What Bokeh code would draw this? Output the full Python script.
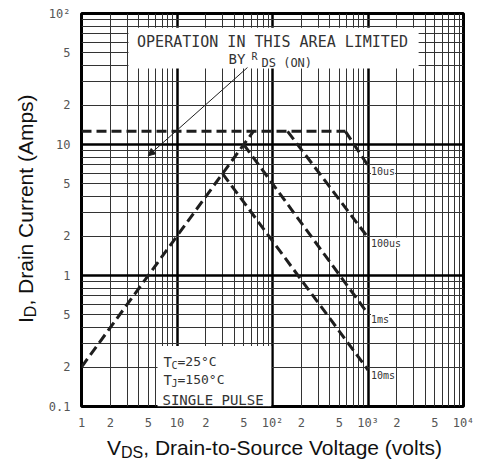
import math
from bokeh.plotting import figure
from bokeh.layouts import row, column
from bokeh.models import (Range1d, FixedTicker, Label, LabelSet, BoxAnnotation, Arrow,
                          NormalHead, ColumnDataSource, CustomJSTickFormatter, Div)
from bokeh.core.properties import value
from bokeh.embed import file_html
from bokeh.resources import INLINE

# ---------------- data ----------------
rds_v = [1, 63]          # RDS(on) limit line
rds_i = [0.2, 12.6]
lim_v = [1, 580]         # current limit
lim_i = [12.6, 12.6]
t10us_v = [580, 1000]
t10us_i = [12.6, 6.9]
t100us_v = [144, 1000]
t100us_i = [12.6, 1.95]
t1ms_v = [50, 1000]
t1ms_i = [10.0, 0.51]
t10ms_v = [30, 1000]
t10ms_i = [6.0, 0.19]
curve_labels = ["10us", "100us", "1ms", "10ms"]

x_ticks = [1, 2, 5, 10, 20, 50, 100, 200, 500, 1000, 2000, 5000, 10000]
x_tick_labels = ["1", "2", "5", "10", "2", "5", "10²", "2", "5", "10³", "2", "5", "10⁴"]
y_ticks = [0.1, 0.2, 0.5, 1, 2, 5, 10, 20, 50, 100]
y_tick_labels = ["0.1", "2", "5", "1", "2", "5", "10", "2", "5", "10²"]

MONO = "DejaVu Sans Mono"
SANS = "Liberation Sans"
INK = "#1e1e1e"

p = figure(width=442, height=432, x_axis_type="log", y_axis_type="log",
           x_range=Range1d(1, 10000), y_range=Range1d(0.1, 100),
           output_backend="svg", toolbar_location=None, margin=0,
           min_border_left=41, min_border_right=19, min_border_top=13, min_border_bottom=25)
p.background_fill_color = "white"
p.border_fill_color = "white"
p.outline_line_color = "black"
p.outline_line_width = 3

# grid
x_dec = [10 ** k for k in range(0, 5)]
x_min = [m * 10 ** k for k in range(0, 4) for m in range(2, 10)]
y_dec = [10.0 ** k for k in range(-1, 3)]
y_min = [m * 10.0 ** k for k in range(-1, 2) for m in range(2, 10)]
p.xgrid.ticker = FixedTicker(ticks=x_dec, minor_ticks=x_min)
p.ygrid.ticker = FixedTicker(ticks=y_dec, minor_ticks=y_min)
for g in (p.xgrid, p.ygrid):
    g.grid_line_color = "black"
    g.grid_line_width = 2.5
    g.grid_line_alpha = 1
    g.minor_grid_line_color = "#333333"
    g.minor_grid_line_width = 1

fmt_code = """
const i = tks.findIndex(t => Math.abs(Math.log10(t) - Math.log10(tick)) < 1e-6);
return i >= 0 ? labs[i] : "";
"""
p.xaxis.ticker = FixedTicker(ticks=x_ticks)
p.yaxis.ticker = FixedTicker(ticks=y_ticks)
p.xaxis.formatter = CustomJSTickFormatter(args=dict(tks=x_ticks, labs=x_tick_labels), code=fmt_code)
p.yaxis.formatter = CustomJSTickFormatter(args=dict(tks=y_ticks, labs=y_tick_labels), code=fmt_code)
for ax in (p.xaxis, p.yaxis):
    ax.axis_line_color = None
    ax.major_tick_line_color = None
    ax.minor_tick_line_color = None
    ax.major_tick_out = 0
    ax.major_label_text_font = MONO
    ax.major_label_text_font_size = "12px"
    ax.major_label_text_color = "#555555"
p.xaxis.major_label_standoff = 9
p.yaxis.major_label_standoff = 11

# curves
dash = dict(line_color=INK, line_width=3, line_dash="10 5")
p.line(rds_v, rds_i, **dash)
p.line(lim_v, lim_i, **dash)
p.line(t10us_v, t10us_i, **dash)
p.line(t100us_v, t100us_i, **dash)
p.line(t1ms_v, t1ms_i, **dash)
p.line(t10ms_v, t10ms_i, **dash)

src = ColumnDataSource(dict(
    x=[t10us_v[-1], t100us_v[-1], t1ms_v[-1], t10ms_v[-1]],
    y=[t10us_i[-1], t100us_i[-1], t1ms_i[-1], t10ms_i[-1]],
    text=curve_labels))
p.add_layout(LabelSet(x="x", y="y", text="text", source=src, x_offset=3,
                      text_font=value(MONO), text_font_size="10px", text_color="#333333",
                      text_baseline="top", text_align="left",
                      background_fill_color="white"))

# white text boxes
p.add_layout(BoxAnnotation(left=3.1, right=3390, bottom=38, top=78, fill_color="white",
                           fill_alpha=1, line_color=None, level="underlay"))
p.add_layout(BoxAnnotation(left=6.25, right=97, bottom=0.1, top=0.29, fill_color="white",
                           fill_alpha=1, line_color=None, level="underlay"))

def lab(x, y, text, size, font=MONO, color="#333333", align="left"):
    p.add_layout(Label(x=x, y=y, x_units="screen", y_units="screen", text=text,
                       text_font=font, text_font_size=size, text_color=color,
                       text_align=align, text_baseline="alphabetic"))

lab(191, 365, "OPERATION IN THIS AREA LIMITED", "15px", align="center")
lab(147, 348, "BY", "14px")
lab(170, 350, "R", "10px")
lab(180, 344, "DS (ON)", "12px")

lab(82, 45, "T", "14px")
lab(90, 41, "C", "10px")
lab(96, 45, "=25°C", "13px")
lab(82, 27, "T", "14px")
lab(90, 23, "J", "10px")
lab(96, 27, "=150°C", "13px")
lab(81, 7, "SINGLE PULSE", "14px")

p.add_layout(Arrow(end=NormalHead(size=7, fill_color=INK, line_color=INK),
                   x_start=54.7, y_start=38.7, x_end=5.0, y_end=8.2,
                   line_color=INK, line_width=1))

# axis titles (HTML so that subscripts are real text)
sub = "font-size:16px; vertical-align:-3px; line-height:0;"
ytitle = Div(width=40, height=432, margin=0, styles={"overflow": "hidden"},
             text=('<div style="position:absolute; left:15px; top:323px; '
                   'transform:rotate(-90deg); transform-origin:0 0; white-space:nowrap; '
                   'font-family:\'Liberation Sans\'; font-size:21px; line-height:1; color:#111;">'
                   'I<span style="' + sub + '">D</span>, Drain Current (Amps)</div>'))
xtitle = Div(width=482, height=29, margin=0, styles={"overflow": "hidden"},
             text=('<div style="position:absolute; left:107px; top:5px; white-space:nowrap; '
                   'font-family:\'Liberation Sans\'; font-size:21px; line-height:1; color:#111;">'
                   'V<span style="' + sub + '">DS</span>, Drain-to-Source Voltage (volts)</div>'))

layout = column(row(ytitle, p, spacing=0, margin=0), xtitle, spacing=0, margin=0)
open("out.html", "w").write(file_html(layout, INLINE))
